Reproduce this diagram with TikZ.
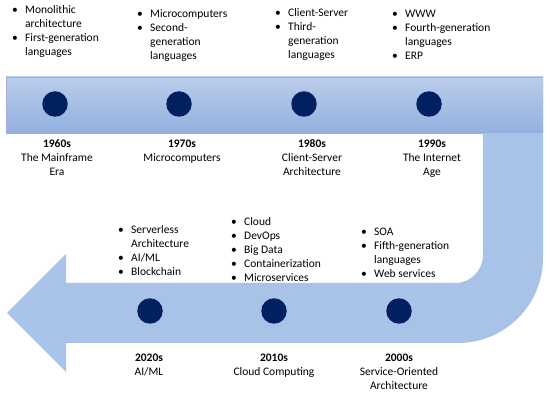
\documentclass[tikz,border=0pt]{standalone}
\usepackage{fontspec}
\setmainfont{Carlito}
\definecolor{band}{HTML}{A9C2E7}
\definecolor{bandtop}{HTML}{BACDEB}
\definecolor{bandbot}{HTML}{93B0DF}
\definecolor{bandedge}{HTML}{AFA8DC}
\definecolor{dotblue}{HTML}{002060}
\newcommand{\bul}{\makebox[13pt][l]{\textbullet}}
\begin{document}
\begin{tikzpicture}[x=1pt,y=-1pt,
  dot/.style={circle,fill=dotblue,minimum size=25.5pt,inner sep=0pt},
  era/.style={anchor=base,inner sep=0pt,font=\fontsize{11.5}{14}\selectfont},
  items/.style={anchor=base west,inner sep=0pt,font=\fontsize{11.5}{14}\selectfont}]
  \useasboundingbox (0,0) rectangle (550,398);
  \fill[band] (6,77) -- (543,77) -- (543,258)
    .. controls (543,304.9) and (504.9,343) .. (458,343) -- (66,343) -- (66,372)
    -- (7,313) -- (66,254) -- (66,283) -- (455,283)
    .. controls (470.5,283) and (483,270.5) .. (483,255) -- (483,133) -- (6,133) -- cycle;
  \shade[top color=bandtop,bottom color=bandbot] (6,77) rectangle (543,133);
  \draw[bandedge,line width=0.6pt] (6,133) -- (6,77) -- (543,77);
  \draw[bandedge,line width=0.6pt] (6,133) -- (483,133);

  \node[dot] (d1960) at (55,104) {};
  \node[dot] (d1970) at (179,104) {};
  \node[dot] (d1980) at (304,104) {};
  \node[dot] (d1990) at (429,104) {};
  \node[dot] (d2020) at (150,311) {};
  \node[dot] (d2010) at (274,311) {};
  \node[dot] (d2000) at (399,311) {};

  \node[era] (e1960) at (57,148) {\begin{tabular}[t]{@{}c@{}}\textbf{1960s}\\The Mainframe\\Era\end{tabular}};
  \node[era] (e1970) at (182,148) {\begin{tabular}[t]{@{}c@{}}\textbf{1970s}\\Microcomputers\end{tabular}};
  \node[era] (e1980) at (312,148) {\begin{tabular}[t]{@{}c@{}}\textbf{1980s}\\Client-Server\\Architecture\end{tabular}};
  \node[era] (e1990) at (432,148) {\begin{tabular}[t]{@{}c@{}}\textbf{1990s}\\The Internet\\Age\end{tabular}};
  \node[era] (e2020) at (149,362) {\begin{tabular}[t]{@{}c@{}}\textbf{2020s}\\AI/ML\end{tabular}};
  \node[era] (e2010) at (274,362) {\begin{tabular}[t]{@{}c@{}}\textbf{2010s}\\Cloud Computing\end{tabular}};
  \node[era] (e2000) at (399,362) {\begin{tabular}[t]{@{}c@{}}\textbf{2000s}\\Service-Oriented\\Architecture\end{tabular}};

  \node[items] (l1960) at (12,13.5) {\begin{tabular}[t]{@{}l@{}l@{}}\bul & Monolithic\\ & architecture\\ \bul & First-generation\\ & languages\end{tabular}};
  \node[items] (l1970) at (137,17.5) {\begin{tabular}[t]{@{}l@{}l@{}}\bul & Microcomputers\\ \bul & Second-\\ & generation\\ & languages\end{tabular}};
  \node[items] (l1980) at (275,17) {\begin{tabular}[t]{@{}l@{}l@{}}\bul & Client-Server\\ \bul & Third-\\ & generation\\ & languages\end{tabular}};
  \node[items] (l1990) at (392,17.5) {\begin{tabular}[t]{@{}l@{}l@{}}\bul & WWW\\ \bul & Fourth-generation\\ & languages\\ \bul & ERP\end{tabular}};
  \node[items] (l2020) at (118,233.5) {\begin{tabular}[t]{@{}l@{}l@{}}\bul & Serverless\\ & Architecture\\ \bul & AI/ML\\ \bul & Blockchain\end{tabular}};
  \node[items] (l2010) at (231,225.5) {\begin{tabular}[t]{@{}l@{}l@{}}\bul & Cloud\\ \bul & DevOps\\ \bul & Big Data\\ \bul & Containerization\\ \bul & Microservices\end{tabular}};
  \node[items] (l2000) at (361,235.5) {\begin{tabular}[t]{@{}l@{}l@{}}\bul & SOA\\ \bul & Fifth-generation\\ & languages\\ \bul & Web services\end{tabular}};
\end{tikzpicture}
\end{document}
